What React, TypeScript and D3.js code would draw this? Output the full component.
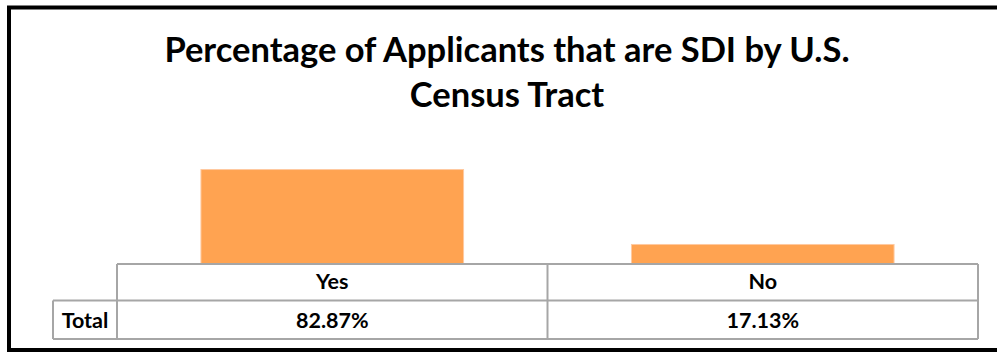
import React from "react";
import * as d3 from "d3";

const categories: string[] = ["Yes", "No"];
const values: number[] = [82.87, 17.13];
const valueLabels: string[] = ["82.87%", "17.13%"];
const rowLabel = "Total";
const titleLines: string[] = ["Percentage of Applicants that are SDI by U.S.", "Census Tract"];

const W = 997;
const H = 352;
const FONT = "Lato, 'Open Sans', sans-serif";

export default function App() {
  const plotLeft = 117;
  const plotRight = 978;
  const baseY = 264;
  const row1Bottom = 300.5;
  const row2Bottom = 339;
  const labelLeft = 53;

  const x = d3.scaleBand<string>().domain(categories).range([plotLeft, plotRight]).padding(0);
  const y = d3.scaleLinear().domain([0, 100]).range([baseY, baseY - 114]);
  const barFrac = 0.61;
  const bw = x.bandwidth() * barFrac;
  const grid = "#a6a6a6";

  return (
    <div style={{ position: "fixed", left: 0, top: 0, width: W, height: H, overflow: "hidden" }}>
      <svg width={W} height={H} style={{ display: "block" }}>
        <rect x={0} y={0} width={W} height={H} fill="#fff" />
        <rect x={9} y={7.5} width={W + 20} height={342.5} fill="none" stroke="#000" strokeWidth={4} />
        <text x={507} y={62} textAnchor="middle" fontFamily={FONT} fontWeight={700} fontSize={34.5} fill="#000">
          {titleLines[0]}
        </text>
        <text x={507} y={107} textAnchor="middle" fontFamily={FONT} fontWeight={700} fontSize={34.5} fill="#000">
          {titleLines[1]}
        </text>
        {categories.map((c, i) => {
          const cx = (x(c) as number) + x.bandwidth() / 2;
          return (
            <rect
              key={c}
              x={cx - bw / 2}
              y={y(values[i])}
              width={bw}
              height={baseY - y(values[i])}
              fill="#ffa351"
              stroke="#ffc9a0"
              strokeWidth={1}
            />
          );
        })}
        <g stroke={grid} strokeWidth={2} fill="none">
          <line x1={plotLeft} x2={plotRight} y1={baseY} y2={baseY} />
          <line x1={labelLeft} x2={plotRight} y1={row1Bottom} y2={row1Bottom} />
          <line x1={labelLeft} x2={plotRight} y1={row2Bottom} y2={row2Bottom} />
          <line x1={labelLeft} x2={labelLeft} y1={row1Bottom} y2={row2Bottom} />
          {categories.map((c) => (
            <line key={c} x1={x(c) as number} x2={x(c) as number} y1={baseY} y2={row2Bottom} />
          ))}
          <line x1={plotRight} x2={plotRight} y1={baseY} y2={row2Bottom} />
        </g>
        {categories.map((c, i) => {
          const cx = (x(c) as number) + x.bandwidth() / 2;
          return (
            <g key={c} fontFamily={FONT} fontWeight={700} fontSize={21.5} fill="#000" textAnchor="middle">
              <text x={cx} y={289}>{c}</text>
              <text x={cx} y={327.5}>{valueLabels[i]}</text>
            </g>
          );
        })}
        <text x={(labelLeft + plotLeft) / 2} y={327.5} textAnchor="middle" fontFamily={FONT} fontWeight={700} fontSize={21.5} fill="#000">
          {rowLabel}
        </text>
      </svg>
    </div>
  );
}
